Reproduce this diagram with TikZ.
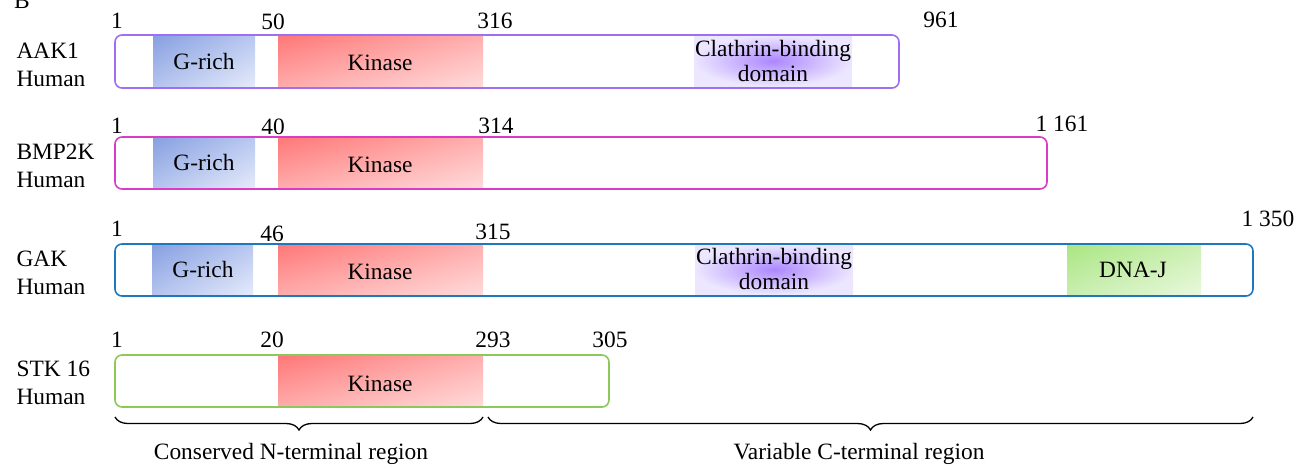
\documentclass[tikz,border=0pt]{standalone}
\usepackage{fontspec}
\setmainfont{Liberation Serif}
\usetikzlibrary{shadings,decorations.pathreplacing}
\definecolor{aakcol}{RGB}{160,110,240}
\definecolor{bmpcol}{RGB}{218,60,200}
\definecolor{gakcol}{RGB}{30,120,190}
\definecolor{stkcol}{RGB}{140,200,90}
\tikzset{
  protbox/.style={line width=1.6pt, rounded corners=7pt},
  grich/.style={shading=bilinear interpolation,
    upper left={rgb,255:red,135;green,160;blue,225},
    upper right={rgb,255:red,185;green,200;blue,240},
    lower left={rgb,255:red,180;green,195;blue,238},
    lower right={rgb,255:red,228;green,234;blue,250}},
  kinase/.style={shading=bilinear interpolation,
    upper left={rgb,255:red,255;green,120;blue,120},
    upper right={rgb,255:red,255;green,175;blue,175},
    lower left={rgb,255:red,255;green,170;blue,170},
    lower right={rgb,255:red,255;green,218;blue,218}},
  clathrin/.style={inner color={rgb,255:red,172;green,135;blue,255},
    outer color={rgb,255:red,236;green,230;blue,255}},
  dnaj/.style={shading=bilinear interpolation,
    upper left={rgb,255:red,170;green,230;blue,130},
    upper right={rgb,255:red,205;green,240;blue,180},
    lower left={rgb,255:red,200;green,238;blue,175},
    lower right={rgb,255:red,232;green,248;blue,220}},
  protname/.style={anchor=west, align=left},
  bracket/.style={decorate, decoration={brace, mirror, amplitude=13pt}, line width=1.3pt}
}
\begin{document}
\begin{tikzpicture}[x=1pt, y=-1pt, font=\fontsize{23.4}{28}\selectfont]
  \useasboundingbox (0,0) rectangle (1308,469);
  \node (panel) at (22,1) {B};
  % AAK1
  \shade[grich] (153,36) rectangle (255,86);
  \shade[kinase] (278,36) rectangle (483,86);
  \shade[clathrin] (694,36) rectangle (852,86);
  \draw[protbox, aakcol] (115,35) rectangle (899,88);
  \node[protname] (aak) at (13,65) {AAK1\\Human};
  \node (aakg) at (204,61) {G-rich};
  \node (aakk) at (380,63) {Kinase};
  \node[align=center, font=\fontsize{23.4}{25}\selectfont] (aakc) at (773,61) {Clathrin-binding\\domain};
  \node (aaka) at (117,21) {1};
  \node (aakb) at (273,22) {50};
  \node (aakc2) at (495,21) {316};
  \node (aakd) at (941,20) {961};
  % BMP2K
  \shade[grich] (153,138) rectangle (255,187);
  \shade[kinase] (278,138) rectangle (483,187);
  \draw[protbox, bmpcol] (115,137) rectangle (1047,189);
  \node[protname] (bmp) at (13,166) {BMP2K\\Human};
  \node (bmpg) at (204,162) {G-rich};
  \node (bmpk) at (380,165) {Kinase};
  \node (bmpa) at (117,126) {1};
  \node (bmpb) at (273,127) {40};
  \node (bmpc) at (496,126) {314};
  \node (bmpd) at (1062,124) {1 161};
  % GAK
  \shade[grich] (152,245) rectangle (253,294);
  \shade[kinase] (278,245) rectangle (483,294);
  \shade[clathrin] (695,245) rectangle (853,294);
  \shade[dnaj] (1067,245) rectangle (1201,294);
  \draw[protbox, gakcol] (115,244) rectangle (1253,296);
  \node[protname] (gak) at (13,273) {GAK\\Human};
  \node (gakg) at (203,269) {G-rich};
  \node (gakk) at (380,272) {Kinase};
  \node[align=center, font=\fontsize{23.4}{25}\selectfont] (gakc) at (774,269) {Clathrin-binding\\domain};
  \node (gakj) at (1133,270) {DNA-J};
  \node (gaka) at (117,229) {1};
  \node (gakb) at (272,234) {46};
  \node (gakc2) at (493,232) {315};
  \node (gakd) at (1268,219) {1 350};
  % STK16
  \shade[kinase] (278,356) rectangle (483,406);
  \draw[protbox, stkcol] (115,355) rectangle (609,407);
  \node[protname] (stk) at (13,383) {STK 16\\Human};
  \node (stkk) at (380,384) {Kinase};
  \node (stka) at (117,340) {1};
  \node (stkb) at (272,340) {20};
  \node (stkc) at (493,340) {293};
  \node (stkd) at (610,340) {305};
  % Klammern
  \draw[bracket] (115,417) -- (483,417);
  \draw[bracket] (488,417) -- (1253,417);
  \node (cons) at (291,454) {Conserved N-terminal region};
  \node (vari) at (859,454) {Variable C-terminal region};
\end{tikzpicture}
\end{document}
